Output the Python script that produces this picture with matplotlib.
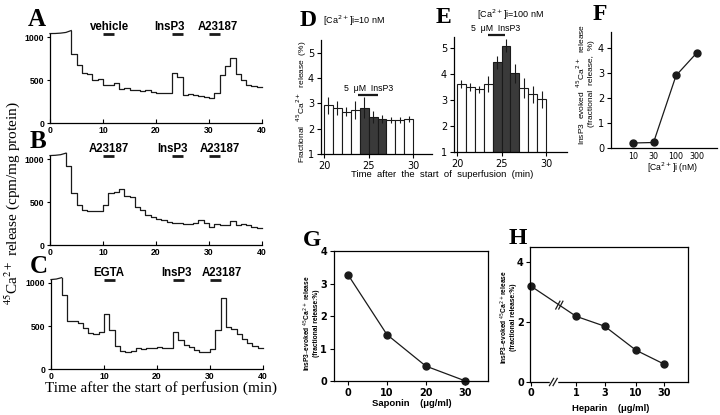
import numpy as np
import matplotlib
matplotlib.use("Agg")
import matplotlib.pyplot as plt

plt.rcParams['font.family'] = ['DejaVu Sans']
plt.rcParams['axes.linewidth'] = 0.9
plt.rcParams['xtick.major.width'] = 0.8
plt.rcParams['ytick.major.width'] = 0.8

# ---------------- data ----------------
# Panels A-C : 45Ca2+ release (cpm/mg protein), 1-min fractions
A_off_t = [0, 1, 2, 3, 4]
A_off_v = [1040, 1041, 1045, 1053, 1075]
A_start = 4
A_vals = [800, 680, 585, 565, 500, 515, 445, 445, 460, 398, 408, 382, 388, 376,
          378, 355, 350, 350, 345, 580, 535, 320, 340, 325, 310, 298, 292, 345,
          560, 660, 755, 575, 500, 445, 430, 420]
A_drugs = ["vehicle", "InsP3", "A23187"]
A_on = [10, 23, 30]
A_off = [12, 25, 32]
A_lab_t = [11.3, 22.6, 31.6]

B_off_t = [0, 1, 2, 3]
B_off_v = [1040, 1043, 1050, 1068]
B_start = 3
B_vals = [915, 610, 470, 410, 395, 390, 390, 470, 600, 620, 650, 575, 555, 445,
          408, 352, 330, 305, 290, 268, 255, 250, 245, 248, 250, 290, 250, 215,
          240, 235, 230, 275, 235, 240, 238, 215, 198]
B_drugs = ["A23187", "InsP3", "A23187"]
B_on = [10, 23, 30]
B_off = [12, 25, 32]
B_lab_t = [11.1, 23.1, 32.0]

C_off_t = [0, 1, 2]
C_off_v = [1040, 1046, 1062]
C_start = 2
C_vals = [865, 560, 560, 535, 475, 418, 410, 425, 645, 450, 262, 204, 192, 210,
          240, 236, 245, 250, 252, 250, 242, 435, 335, 280, 260, 222, 196, 202,
          235, 453, 820, 490, 462, 408, 345, 305, 268, 250]
C_drugs = ["EGTA", "InsP3", "A23187"]
C_on = [10, 23, 30]
C_off = [12, 25, 32]
C_lab_t = [10.9, 23.6, 32.2]

# Panels D, E : fractional release (%) per minute
DE_t = [20, 21, 22, 23, 24, 25, 26, 27, 28, 29]
DE_insp3 = [False, False, False, False, True, True, True, False, False, False]
D_vals = [2.92, 2.80, 2.67, 2.73, 2.83, 2.46, 2.37, 2.34, 2.34, 2.39]
D_err = [0.33, 0.28, 0.18, 0.35, 0.42, 0.22, 0.15, 0.13, 0.13, 0.12]
E_vals = [3.60, 3.49, 3.40, 3.60, 4.44, 5.08, 4.01, 3.46, 3.21, 3.02]
E_err = [0.15, 0.14, 0.14, 0.32, 0.25, 0.25, 0.38, 0.38, 0.32, 0.32]

# Panel F
F_ca = [10, 30, 100, 300]
F_rel = [0.20, 0.22, 2.90, 3.80]

# Panel G
G_sap = [0, 10, 20, 30]
G_rel = [3.27, 1.43, 0.46, 0.01]

# Panel H
H_hep = [0, 1, 3, 10, 30]
H_rel = [3.19, 2.19, 1.86, 1.06, 0.59]

# ---------------- figure ----------------
W, H = 720, 415
fig = plt.figure(figsize=(7.2, 4.15), dpi=100)
fig.patch.set_facecolor('white')
LC = '#1a1a1a'


def add_ax(l, t, r, b):
    return fig.add_axes([l / W, 1 - b / H, (r - l) / W, (b - t) / H])


def ftext(px, py, s, **kw):
    return fig.text(px / W, 1 - py / H, s, **kw)


def style_ticklabels(ax, family, size, weight='normal'):
    for lab in ax.get_xticklabels() + ax.get_yticklabels():
        lab.set_fontfamily(family)
        lab.set_fontsize(size)
        lab.set_fontweight(weight)


def trace_panel(l, r, bottom, off_t, off_v, start, vals, drugs, on, off, lab_t):
    top = bottom - 1100 * 0.086
    ax = add_ax(l, top, r, bottom)
    ax.set_xlim(0, 40)
    ax.set_ylim(0, 1100)
    for s in ['top', 'right']:
        ax.spines[s].set_visible(False)
    ax.spines['left'].set_bounds(0, off_v[0])
    ax.spines['bottom'].set_bounds(0, 40)
    ax.plot(off_t, off_v, color=LC, lw=0.9, clip_on=False)
    edges = np.arange(start, start + len(vals) + 1)
    xs = np.concatenate([[start], np.repeat(edges, 2)[1:-1]])
    ys = np.concatenate([[off_v[-1]], np.repeat(vals, 2)])
    ax.plot(xs, ys, color=LC, lw=0.9, clip_on=False)
    for name, a, b, lt in zip(drugs, on, off, lab_t):
        ax.plot([a, b], [1030, 1030], color=LC, lw=2.0, solid_capstyle='butt',
                clip_on=False)
        ax.text(lt, 1118, name, ha='center', va='center', fontsize=8.3,
                fontweight='bold', family='Liberation Sans', clip_on=False)
    ax.set_yticks([0, 500, 1000])
    ax.set_xticks([0, 10, 20, 30, 40])
    ax.tick_params(axis='y', direction='out', length=2.5, pad=1.5)
    ax.tick_params(axis='x', direction='in', length=3, pad=2.5)
    style_ticklabels(ax, 'Liberation Sans', 6.2, 'bold')
    return ax


trace_panel(50, 262, 123, A_off_t, A_off_v, A_start, A_vals, A_drugs, A_on, A_off, A_lab_t)
trace_panel(50, 262, 245, B_off_t, B_off_v, B_start, B_vals, B_drugs, B_on, B_off, B_lab_t)
trace_panel(51, 263, 369, C_off_t, C_off_v, C_start, C_vals, C_drugs, C_on, C_off, C_lab_t)

for letter, px, py in [('A', 36.5, 20), ('B', 38.5, 142), ('C', 39, 266)]:
    ftext(px, py, letter, fontsize=18, fontweight='bold', family='Liberation Serif',
          ha='center', va='center')

ftext(12, 203, r'$^{45}$Ca$^{2+}$ release (cpm/mg protein)', rotation=90,
      ha='center', va='center', fontsize=11, family='Liberation Serif',
      math_fontfamily='stix')
ftext(161, 388, 'Time after the start of perfusion (min)', ha='center', va='center',
      fontsize=11, family='Liberation Serif')


# ---------- D, E ----------
def bar_panel(l, t, r, b, xlim, ylim, vals, errs):
    ax = add_ax(l, t, r, b)
    ax.set_xlim(*xlim)
    ax.set_ylim(*ylim)
    for s in ['top', 'right']:
        ax.spines[s].set_visible(False)
    colors = ['#3a3a3a' if f else 'white' for f in DE_insp3]
    ax.bar(DE_t, vals, width=1.0, align='edge', color=colors, edgecolor=LC,
           linewidth=0.8, zorder=2)
    xc = np.array(DE_t) + 0.5
    ax.errorbar(xc, vals, yerr=errs, fmt='none', ecolor=LC, elinewidth=0.8,
                capsize=0, zorder=3)
    ax.set_xticks([20, 25, 30])
    ax.set_yticks([1, 2, 3, 4, 5])
    ax.tick_params(direction='out', length=3, pad=2)
    style_ticklabels(ax, 'DejaVu Sans', 7)
    return ax


axD = bar_panel(321, 40, 432, 154, (19.66, 32.1), (1, 5.5), D_vals, D_err)
axD.plot([23.8, 26.1], [3.32, 3.32], color=LC, lw=1.6, solid_capstyle='butt', zorder=4)
axD.text(24.95, 3.58, '5  \u03bcM  InsP3', ha='center', va='center', fontsize=6.3,
         family='Liberation Sans', zorder=4)

axE = bar_panel(454, 36.6, 567, 151.7, (19.66, 32.36), (1, 5.43), E_vals, E_err)
axE.plot([23.5, 25.4], [5.49, 5.49], color=LC, lw=1.6, solid_capstyle='butt',
         clip_on=False, zorder=4)
axE.text(24.3, 5.73, '5  \u03bcM  InsP3', ha='center', va='center', fontsize=6.3,
         family='Liberation Sans', clip_on=False, zorder=4)

ftext(308, 20, 'D', fontsize=17, fontweight='bold', family='Liberation Serif',
      ha='center', va='center')
ftext(443.5, 17.5, 'E', fontsize=17, fontweight='bold', family='Liberation Serif',
      ha='center', va='center')
ftext(323, 21, r'[Ca$^{2+}$]i=10 nM', ha='left', va='center', fontsize=6.5,
      family='Liberation Sans')
ftext(477, 15, r'[Ca$^{2+}$]i=100 nM', ha='left', va='center', fontsize=6.5,
      family='Liberation Sans')
ftext(302, 102, r'Fractional  $^{45}$Ca$^{2+}$  release  (%)', rotation=90,
      ha='center', va='center', fontsize=6, family='Liberation Sans')
ftext(442, 174, 'Time  after  the  start  of  superfusion  (min)', ha='center',
      va='center', fontsize=6.8, family='Liberation Sans')

# ---------- F ----------
axF = add_ax(611, 32, 717, 148)
axF.set_xscale('log')
axF.set_xlim(3.09, 891)
axF.set_ylim(0, 4.64)
for s in ['top', 'right']:
    axF.spines[s].set_visible(False)
axF.plot(F_ca, F_rel, color=LC, lw=0.9, marker='o', ms=5, mfc=LC, mec=LC, clip_on=False)
axF.set_xticks(F_ca)
axF.set_xticklabels([str(v) for v in F_ca])
axF.xaxis.set_minor_locator(matplotlib.ticker.NullLocator())
axF.set_yticks([0, 1, 2, 3, 4])
axF.tick_params(direction='out', length=3, pad=2)
style_ticklabels(axF, 'DejaVu Sans', 7)
axF.tick_params(axis='x', length=0, pad=3)
for lab in axF.get_xticklabels():
    lab.set_fontsize(5.8)
ftext(600, 14, 'F', fontsize=17, fontweight='bold', family='Liberation Serif',
      ha='center', va='center')
ftext(585, 84, 'InsP3  evoked  $^{45}$Ca$^{2+}$  release\n(fractional  release,  %)',
      rotation=90, ha='center', va='center', fontsize=6.0, family='Liberation Sans',
      linespacing=1.2)
ftext(672, 168, r'[Ca$^{2+}$]i (nM)', ha='center', va='center', fontsize=6.2,
      family='Liberation Sans')

# ---------- G ----------
axG = add_ax(334, 251, 488, 381)
axG.set_xlim(-3.6, 36)
axG.set_ylim(0, 4)
axG.plot(G_sap, G_rel, color=LC, lw=0.9, marker='o', ms=5, mfc=LC, mec=LC, clip_on=False)
axG.set_xticks([0, 10, 20, 30])
axG.set_yticks([0, 1, 2, 3, 4])
axG.tick_params(direction='out', length=3, pad=2)
style_ticklabels(axG, 'DejaVu Sans', 7, 'bold')
ftext(312, 240, 'G', fontsize=17, fontweight='bold', family='Liberation Serif',
      ha='center', va='center')
ftext(311, 323, 'InsP3\u2013evoked $^{45}$Ca$^{2+}$ release\n(fractional release:%)',
      rotation=90, ha='center', va='center', fontsize=4.8, fontweight='bold',
      family='Liberation Sans', linespacing=1.1)
ftext(412, 403, 'Saponin    (\u03bcg/ml)', ha='center', va='center', fontsize=6.8,
      fontweight='bold', family='Liberation Sans')

# ---------- H ----------
ZERO_POS = -0.75
H_pos = [ZERO_POS if v == 0 else np.log10(v) for v in H_hep]
axH = add_ax(530, 247, 688, 382)
axH.set_xlim(-0.77, 1.87)
axH.set_ylim(0, 4.5)
axH.plot(H_pos, H_rel, color=LC, lw=0.9, marker='o', ms=5, mfc=LC, mec=LC, clip_on=False)
axH.set_xticks(H_pos)
axH.set_xticklabels([str(v) for v in H_hep])
axH.set_yticks([0, 2, 4])
axH.tick_params(direction='out', length=3, pad=1.5)
style_ticklabels(axH, 'DejaVu Sans', 7, 'bold')
# axis-break marks
bx_line = -0.28
by_line = np.interp(bx_line, H_pos[:2], H_rel[:2])
for dx in (-0.025, 0.025):
    axH.plot([bx_line + dx - 0.035, bx_line + dx + 0.035],
             [by_line - 0.13, by_line + 0.13], color=LC, lw=0.9, zorder=5)
bx_axis = -0.38
axH.plot([bx_axis - 0.04, bx_axis + 0.04], [0, 0], color='white', lw=2.5,
         clip_on=False, zorder=5)
for dx in (-0.03, 0.03):
    axH.plot([bx_axis + dx - 0.035, bx_axis + dx + 0.035], [-0.12, 0.12], color=LC,
             lw=0.9, clip_on=False, zorder=6)
ftext(518, 238, 'H', fontsize=17, fontweight='bold', family='Liberation Serif',
      ha='center', va='center')
ftext(508, 317, 'InsP3\u2013evoked $^{45}$Ca$^{2+}$release\n(fractional release:%)',
      rotation=90, ha='center', va='center', fontsize=4.8, fontweight='bold',
      family='Liberation Sans', linespacing=1.1)
ftext(611, 408, 'Heparin    (\u03bcg/ml)', ha='center', va='center', fontsize=6.8,
      fontweight='bold', family='Liberation Sans')

fig.savefig('out.png', dpi=100)
